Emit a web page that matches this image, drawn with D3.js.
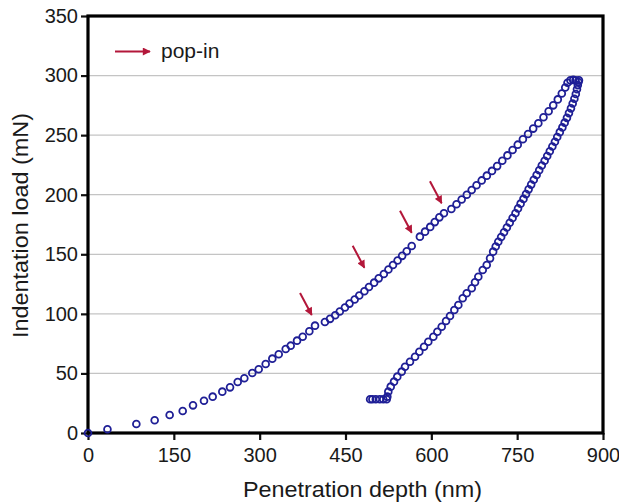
<!DOCTYPE html>
<html><head><meta charset="utf-8">
<script src="https://cdn.jsdelivr.net/npm/d3@7"></script>
<style>
html,body{margin:0;padding:0;background:#fff;}
svg text{font-family:"Liberation Sans",Arial,sans-serif;fill:#1a1a1a;}
</style></head>
<body><svg id="c" width="619" height="503"></svg>
<script>
const xTicks = [0,150,300,450,600,750,900];
const yTicks = [0,50,100,150,200,250,300,350];

const loadingDepth = [0,34,84.5,116.5,142.7,165.5,183.5,202.7,217.9,234.7,248.2,261.6,273.2,287.1,298.3,310.5,322.1,333.3,345.5,354.2,365.3,375.2,386.8,396.7,
 414,423,432,440,449,457,466,474,483,491,500,508,517,525,533,541,549,557,565.7,
 580,589,598,606,614,622,
 635,644,653,662,670.5,679,688,697,706,715,724,733,742,751,760,769,778,787,796,805,813,821,828,834,838,843,848,852];
const loadingLoad = [0,3.1,7.5,10.7,15.1,18.5,23.2,27.1,30.5,34.7,38.3,42.8,45.9,50.4,53.5,57.9,62.4,66.1,70.5,73.3,77.5,80.8,85.4,90.1,
 93.2,95.8,98.8,102,105.3,108.6,112,115.4,119,122.5,126.2,129.8,133.5,137.2,141,144.8,148.7,152.6,157,
 164.8,169,173,177,181,184.5,
 188,192,196,200,204,208,212,216,220,224,228.5,233,237.5,242,246.5,251,255.5,260,265,270,275,280,285,290,294,296,296.5,296];

const unloadingDepth = [493,497,503,510,516,522,523.1,524.8,529,534.8,540.5,548.2,554,562.7,571.5,579,
 587.2,594.7,603.5,610.5,618.1,625.7,632.6,640.2,647.2,654.8,661.8,670.6,676.3,682.1,689.8,696.8,702.6,708,
 712.5,717,722,727,732,737,742,747,751.5,756,761,765.5,770,774.5,779,784,788.5,793,798,802.5,
 807,811.5,816,820,824.5,829,833,837,840.5,844,847,850,852.5,854.5,856,857,858];
const unloadingLoad = [28.3,28.3,28.3,28.3,28.3,28.3,30.5,34.7,38.9,43.1,47.3,51.5,55.6,59.8,64.0,68.2,
 72.4,76.6,80.8,85.0,89.2,94.0,98.2,103.2,107.4,113.1,117.3,121.5,126.5,131.2,136.8,141.0,146.6,152.2,
 156.5,160.5,164.5,168.5,172.5,176.5,180.5,184.5,188.5,192.5,196.5,200.5,204.5,208.5,212.5,216.5,220.5,224.5,228.5,232.5,
 236.5,240.5,244.5,248.5,252.5,256.5,260.5,264.5,268.5,272.5,276.5,280.5,284.5,288.5,292,294.6,296];

const popinDepth = [391,483,565.7,618];
const popinLoad = [99,138.7,168,192.8];

const legendLabel = "pop-in";
const xTitle = "Penetration depth (nm)";
const yTitle = "Indentation load (mN)";

const svg = d3.select("#c");
const L=88, T=16, R=603, B=433;
const x = d3.scaleLinear().domain([0,900]).range([L,R]);
const y = d3.scaleLinear().domain([0,350]).range([B,T]);

const ARROW = "#b3173a";
const DOT = "#1f1f96";

svg.append("defs").append("marker")
  .attr("id","ah").attr("markerUnits","userSpaceOnUse")
  .attr("viewBox","0 0 10 10").attr("refX",9).attr("refY",5)
  .attr("markerWidth",9).attr("markerHeight",8).attr("orient","auto")
  .append("path").attr("d","M0,0 L10,5 L0,10 Z").attr("fill",ARROW);

// gridlines
svg.append("g").selectAll("line").data(yTicks.filter(d=>d>0&&d<350)).join("line")
  .attr("x1",L).attr("x2",R).attr("y1",d=>y(d)).attr("y2",d=>y(d))
  .attr("stroke","#c4c4c4").attr("stroke-width",1.3);

// axes
const ax = svg.append("g").attr("transform",`translate(0,${B})`)
  .call(d3.axisBottom(x).tickValues(xTicks).tickSize(7).tickPadding(8).tickFormat(d3.format("d")));
const ay = svg.append("g").attr("transform",`translate(${L},0)`)
  .call(d3.axisLeft(y).tickValues(yTicks).tickSize(7).tickPadding(3).tickFormat(d3.format("d")));
[ax,ay].forEach(g=>{
  g.select(".domain").remove();
  g.selectAll(".tick line").attr("stroke","#111").attr("stroke-width",2.2);
  g.selectAll(".tick text").attr("font-size",20).attr("fill","#1a1a1a")
   .style("font-family","'Liberation Sans',Arial,sans-serif");
});

// frame
svg.append("rect").attr("x",L).attr("y",T).attr("width",R-L).attr("height",B-T)
  .attr("fill","none").attr("stroke","#000").attr("stroke-width",3.2);

// data
const loading = loadingDepth.map((d,i)=>[d,loadingLoad[i]]);
const unloading = unloadingDepth.map((d,i)=>[d,unloadingLoad[i]]);
svg.append("g").selectAll("circle").data(loading.concat(unloading)).join("circle")
  .attr("cx",d=>x(d[0])).attr("cy",d=>y(d[1])).attr("r",3.4)
  .attr("fill","none").attr("stroke",DOT).attr("stroke-width",1.8);

// pop-in arrows
svg.append("g").selectAll("line").data(popinDepth.map((d,i)=>[d,popinLoad[i]])).join("line")
  .attr("x1",d=>x(d[0])-11.7).attr("y1",d=>y(d[1])-22)
  .attr("x2",d=>x(d[0])).attr("y2",d=>y(d[1]))
  .attr("stroke",ARROW).attr("stroke-width",2).attr("marker-end","url(#ah)");

// legend
svg.append("line").attr("x1",115).attr("x2",150).attr("y1",51.5).attr("y2",51.5)
  .attr("stroke",ARROW).attr("stroke-width",2).attr("marker-end","url(#ah)");
svg.append("text").attr("x",161).attr("y",58).attr("font-size",21).text(legendLabel);

// titles
svg.append("text").attr("x",(243+482)/2).attr("y",497).attr("text-anchor","middle")
  .attr("font-size",22).attr("textLength",239).attr("lengthAdjust","spacingAndGlyphs").text(xTitle);
svg.append("text").attr("transform","translate(28,225.5) rotate(-90)").attr("text-anchor","middle")
  .attr("font-size",22).attr("textLength",225).attr("lengthAdjust","spacingAndGlyphs").text(yTitle);
</script></body></html>
